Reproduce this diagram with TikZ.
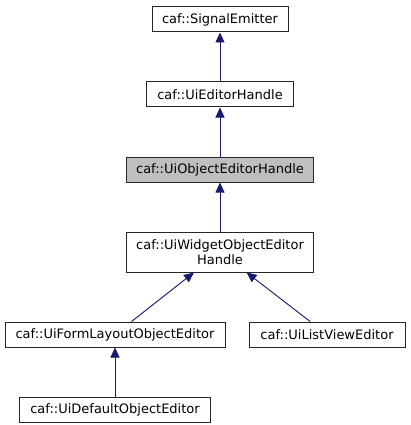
\documentclass[tikz,border=0pt]{standalone}
\usepackage{fontspec}
\setmainfont{DejaVu Sans}
\usepackage{xcolor}
\usepackage{tikz}
\usetikzlibrary{arrows.meta,positioning}

\definecolor{edgeblue}{RGB}{25,25,112}

\begin{document}
\begin{tikzpicture}[
  x=1pt, y=1pt,
  node distance=49pt,
  cls/.style={draw=black!85, line width=1pt, fill=white, minimum height=25pt,
    inner sep=2pt, align=center, font=\fontsize{13}{14.5}\selectfont},
  arr/.style={-{Triangle[length=10pt, width=9pt]}, draw=edgeblue, fill=edgeblue, line width=0.9pt}
]
  \useasboundingbox (0,0) rectangle (411,-425);

  \node[cls, minimum width=136pt] (sig) at (220,-19.5) {caf::SignalEmitter};
  \node[cls, minimum width=147pt, below=of sig] (edh) {caf::UiEditorHandle};
  \node[cls, minimum width=187pt, fill=black!25, below=of edh] (oeh) {caf::UiObjectEditorHandle};
  \node[cls, minimum width=187pt, minimum height=40pt, below=of oeh] (woeh) {caf::UiWidgetObjectEditor\\Handle};
  \node[cls, minimum width=220pt, below=of woeh, xshift=-105pt] (form) {caf::UiFormLayoutObjectEditor};
  \node[cls, minimum width=156pt, below=of woeh, xshift=107pt] (list) {caf::UiListViewEditor};
  \node[cls, minimum width=191pt, below=of form] (dflt) {caf::UiDefaultObjectEditor};

  \draw[arr] (edh) -- (sig);
  \draw[arr] (oeh) -- (edh);
  \draw[arr] (woeh) -- (oeh);
  \draw[arr] (form) -- (woeh);
  \draw[arr] (list) -- (woeh);
  \draw[arr] (dflt) -- (form);
\end{tikzpicture}
\end{document}
